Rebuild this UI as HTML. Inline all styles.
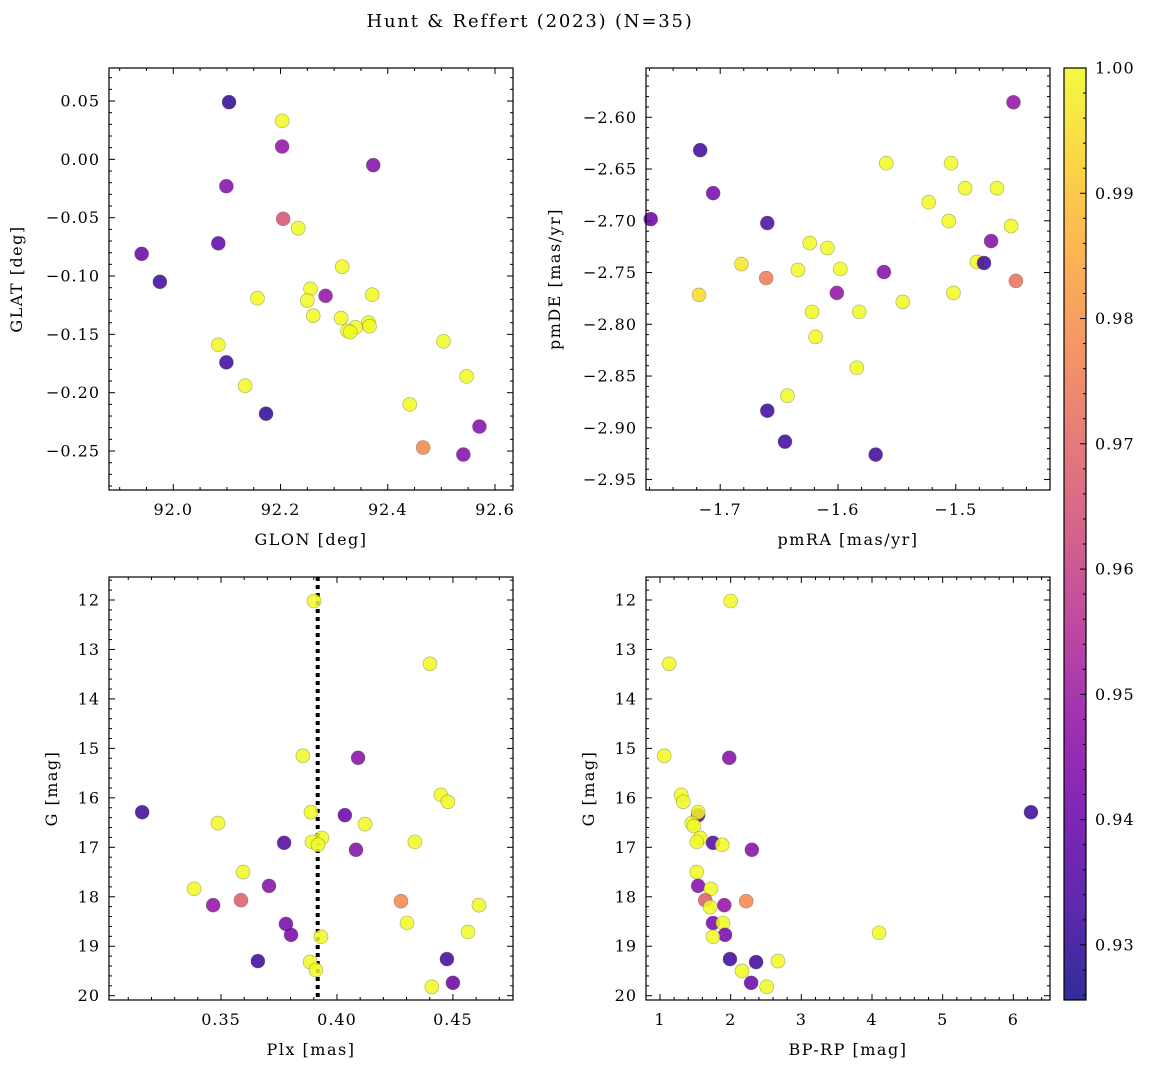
<!DOCTYPE html>
<html><head><meta charset="utf-8"><style>
html,body{margin:0;padding:0;background:#fff}
svg{display:block;font-family:"DejaVu Serif","Liberation Serif",serif}
</style></head><body>
<svg id="fig" width="1149" height="1067" viewBox="0 0 1149 1067" xmlns="http://www.w3.org/2000/svg">
<defs>
<linearGradient id="cbgrad" x1="0" y1="1" x2="0" y2="0">
<stop offset="0" stop-color="#0d0887"/><stop offset="0.1" stop-color="#41049d"/><stop offset="0.2" stop-color="#6a00a8"/><stop offset="0.3" stop-color="#8f0da4"/><stop offset="0.4" stop-color="#b12a90"/><stop offset="0.5" stop-color="#cc4778"/><stop offset="0.6" stop-color="#e16462"/><stop offset="0.7" stop-color="#f2844b"/><stop offset="0.8" stop-color="#fca636"/><stop offset="0.9" stop-color="#fcce25"/><stop offset="1" stop-color="#f0f921"/>
</linearGradient>
</defs>
<text x="530" y="27" font-size="18" letter-spacing="1.8" text-anchor="middle">Hunt &amp; Reffert (2023) (N=35)</text>
</svg>
<script>
// ---- data ----
const glon = [92.104,92.203,92.203,92.373,92.099,92.205,92.233,92.084,91.941,91.975,92.315,92.157,92.256,92.250,92.371,92.284,92.261,92.313,92.364,92.366,92.340,92.325,92.330,92.504,92.084,92.099,92.547,92.134,92.441,92.173,92.571,92.466,92.541];
const glat = [0.049,0.033,0.011,-0.005,-0.023,-0.051,-0.059,-0.072,-0.081,-0.105,-0.092,-0.119,-0.111,-0.121,-0.116,-0.117,-0.134,-0.136,-0.140,-0.143,-0.144,-0.147,-0.148,-0.156,-0.159,-0.174,-0.186,-0.194,-0.210,-0.218,-0.229,-0.247,-0.253];
const prob1 = [0.930,1,0.948,0.945,0.945,0.965,1,0.938,0.940,0.932,1,1,1,1,1,0.948,1,1,1,1,1,1,1,1,1,0.932,1,1,1,0.930,0.945,0.978,0.945];

const pmra = [-1.451,-1.717,-1.759,-1.706,-1.660,-1.559,-1.504,-1.523,-1.492,-1.465,-1.506,-1.453,-1.470,-1.624,-1.609,-1.682,-1.634,-1.598,-1.561,-1.482,-1.476,-1.661,-1.718,-1.449,-1.601,-1.502,-1.545,-1.622,-1.582,-1.619,-1.584,-1.643,-1.660,-1.645,-1.568];
const pmde = [-2.5855,-2.6318,-2.6984,-2.6733,-2.7022,-2.6444,-2.6444,-2.6820,-2.6685,-2.6685,-2.7003,-2.7051,-2.7196,-2.7215,-2.7263,-2.7418,-2.7475,-2.7466,-2.7495,-2.7398,-2.7408,-2.7553,-2.7716,-2.7581,-2.7697,-2.7697,-2.7784,-2.7880,-2.7880,-2.8122,-2.8420,-2.8690,-2.8835,-2.9134,-2.9259];
const prob2 = [0.948,0.932,0.940,0.942,0.935,1,1,1,1,1,1,1,0.945,1,1,0.997,1,1,0.945,1,0.932,0.975,0.995,0.973,0.948,1,1,1,1,1,1,1,0.932,0.932,0.932];

const plx = [0.3901,0.4401,0.3853,0.4091,0.4448,0.4478,0.3160,0.3888,0.4034,0.3487,0.4121,0.3935,0.3772,0.3892,0.3918,0.4336,0.4082,0.3595,0.3707,0.3384,0.3586,0.3466,0.4276,0.4612,0.4302,0.3780,0.3802,0.3931,0.4565,0.3884,0.3659,0.4474,0.3909,0.4500,0.4409];
const gmag3 = [12.02,13.29,15.15,15.19,15.94,16.08,16.29,16.29,16.35,16.51,16.53,16.81,16.91,16.89,16.95,16.89,17.05,17.50,17.78,17.84,18.07,18.17,18.09,18.17,18.53,18.55,18.77,18.81,18.71,19.32,19.30,19.26,19.48,19.74,19.82];
const prob3 = [1,1,1,0.945,1,1,0.932,1,0.940,1,1,1,0.935,1,1,1,0.945,1,0.945,1,0.968,0.948,0.978,1,1,0.942,0.942,1,1,1,0.932,0.932,1,0.940,1];

const bprp = [2.00,1.13,1.06,1.98,1.30,1.33,6.25,1.54,1.54,1.45,1.48,1.57,1.75,1.52,1.88,2.30,1.52,1.54,1.72,1.64,2.22,1.91,1.71,1.75,1.89,1.92,1.75,4.10,1.99,2.36,2.67,2.16,2.29,2.51];
const gmag4 = [12.02,13.29,15.15,15.19,15.94,16.08,16.29,16.35,16.29,16.51,16.57,16.81,16.91,16.89,16.95,17.05,17.50,17.78,17.84,18.07,18.09,18.17,18.21,18.53,18.53,18.77,18.81,18.73,19.26,19.32,19.30,19.50,19.74,19.82];
const prob4 = [1,1,1,0.945,1,1,0.932,0.940,1,1,1,1,0.935,1,1,0.945,1,0.945,1,0.968,0.978,0.948,1,0.942,1,0.942,1,1,0.932,0.932,1,1,0.940,1];

const plxRef = 0.3917;
const cbTicks = [0.93,0.94,0.95,0.96,0.97,0.98,0.99,1.00];
const VMIN = 0.9256, VMAX = 1.0;

// ---- helpers ----
const NS = "http://www.w3.org/2000/svg";
const svg = document.getElementById('fig');
function mk(tag, attrs, parent){const e=document.createElementNS(NS,tag);for(const k in attrs)e.setAttribute(k,attrs[k]);(parent||svg).appendChild(e);return e;}
const stops=[[13,8,135],[65,4,157],[106,0,168],[143,13,164],[177,42,144],[204,71,120],[225,100,98],[242,132,75],[252,166,54],[252,206,37],[240,249,33]];
function plasma(v){let t=(v-VMIN)/(VMAX-VMIN);t=Math.max(0,Math.min(1,t))*10;const i=Math.min(9,Math.floor(t)),f=t-i;const a=stops[i],b=stops[i+1];return `rgb(${a.map((c,k)=>Math.round(c+(b[k]-c)*f)).join(',')})`;}
const TFS=16, TLS=1, LFS=16, LLS=1.5;

function panel(o){
  const g=mk('g',{});
  
  
  const sx=v=>o.x0+(v-o.xmin)/(o.xmax-o.xmin)*(o.x1-o.x0);
  const sy=o.yinv?(v=>o.y0+(v-o.ymin)/(o.ymax-o.ymin)*(o.y1-o.y0)):(v=>o.y1-(v-o.ymin)/(o.ymax-o.ymin)*(o.y1-o.y0));
  const eps=1e-9;
  for(let v=Math.ceil(o.xmin/o.xminor-eps)*o.xminor; v<=o.xmax+eps; v+=o.xminor){
    const major=Math.abs(v/o.xmajor-Math.round(v/o.xmajor))<1e-4;const L=major?6:3;const x=sx(v);
    mk('line',{x1:x,x2:x,y1:o.y1,y2:o.y1-L,stroke:'#000','stroke-width':1},g);
    mk('line',{x1:x,x2:x,y1:o.y0,y2:o.y0+L,stroke:'#000','stroke-width':1},g);
    if(major){const t=mk('text',{x:x,y:o.y1+25,'font-size':TFS,'letter-spacing':TLS,'text-anchor':'middle'},g);t.textContent=o.xfmt(v);
      
      }
  }
  for(let v=Math.ceil(o.ymin/o.yminor-eps)*o.yminor; v<=o.ymax+eps; v+=o.yminor){
    const major=Math.abs(v/o.ymajor-Math.round(v/o.ymajor))<1e-4;const L=major?6:3;const y=sy(v);
    mk('line',{x1:o.x0,x2:o.x0+L,y1:y,y2:y,stroke:'#000','stroke-width':1},g);
    mk('line',{x1:o.x1,x2:o.x1-L,y1:y,y2:y,stroke:'#000','stroke-width':1},g);
    if(major){const t=mk('text',{x:o.x0-9,y:y+5.5,'font-size':TFS,'letter-spacing':TLS,'text-anchor':'end'},g);t.textContent=o.yfmt(v);
      
      }
  }
  if(o.extra)o.extra(g,sx,sy);
  for(let i=0;i<o.xs.length;i++){
    const c=mk('circle',{cx:sx(o.xs[i]),cy:sy(o.ys[i]),r:7,fill:plasma(o.cs[i]),'fill-opacity':0.85,stroke:'rgba(90,90,60,0.5)','stroke-width':0.6},g);
    
    
  }
  const fr=mk('rect',{x:o.x0,y:o.y0,width:o.x1-o.x0,height:o.y1-o.y0,fill:'none',stroke:'#000','stroke-width':1.2},g);
  
  
  const xl=mk('text',{x:(o.x0+o.x1)/2,y:o.y1+55,'font-size':LFS,'letter-spacing':LLS,'text-anchor':'middle'},g);xl.textContent=o.xlabel;
  
  
  const yc=(o.y0+o.y1)/2;
  const yl=mk('text',{x:o.ylx,y:yc,'font-size':LFS,'letter-spacing':LLS,'text-anchor':'middle',transform:`rotate(-90 ${o.ylx} ${yc})`},g);yl.textContent=o.ylabel;
  
  
}
const f=(d)=>(v=>{let s=Math.abs(v).toFixed(d);if(v< -1e-9)s='\u2212'+s;return s;});

panel({name:'glon-glat-panel',x0:109,x1:513,y0:68,y1:490,xmin:91.8801,xmax:92.6336,ymin:-0.2834,ymax:0.0783,
  xmajor:0.2,xminor:0.05,ymajor:0.05,yminor:0.01,xfmt:f(1),yfmt:f(2),xs:glon,ys:glat,cs:prob1,xlabel:'GLON [deg]',ylabel:'GLAT [deg]',ylx:22});
panel({name:'pm-panel',x0:646,x1:1050,y0:68,y1:490,xmin:-1.763,xmax:-1.420,ymin:-2.9601,ymax:-2.5524,
  xmajor:0.1,xminor:0.02,ymajor:0.05,yminor:0.01,xfmt:f(1),yfmt:f(2),xs:pmra,ys:pmde,cs:prob2,xlabel:'pmRA [mas/yr]',ylabel:'pmDE [mas/yr]',ylx:560});
panel({name:'plx-g-panel',x0:109,x1:513,y0:577,y1:1000,xmin:0.3017,xmax:0.4759,ymin:11.535,ymax:20.087,yinv:true,
  xmajor:0.05,xminor:0.01,ymajor:1,yminor:0.2,xfmt:f(2),yfmt:f(0),xs:plx,ys:gmag3,cs:prob3,xlabel:'Plx [mas]',ylabel:'G [mag]',ylx:57,
  extra:(g,sx,sy)=>{const l=mk('line',{x1:sx(plxRef),x2:sx(plxRef),y1:577,y2:1000,stroke:'#000','stroke-width':4,'stroke-dasharray':'4,4'},g);
    
    }});
panel({name:'cmd-panel',x0:646,x1:1050,y0:577,y1:1000,xmin:0.802,xmax:6.519,ymin:11.535,ymax:20.087,yinv:true,
  xmajor:1,xminor:0.2,ymajor:1,yminor:0.2,xfmt:f(0),yfmt:f(0),xs:bprp,ys:gmag4,cs:prob4,xlabel:'BP-RP [mag]',ylabel:'G [mag]',ylx:594});

// colorbar
const cb=mk('g',{});


const cy0=68,cy1=1000,cx0=1064,cx1=1086;
const cby=v=>cy1-(v-VMIN)/(VMAX-VMIN)*(cy1-cy0);
mk('rect',{x:cx0,y:cy0,width:cx1-cx0,height:cy1-cy0,fill:'url(#cbgrad)','fill-opacity':0.85},cb);
for(let v=0.926;v<=1.0001;v+=0.002){const y=cby(v);const maj=Math.abs(v*100-Math.round(v*100))<1e-3;
  mk('line',{x1:cx1,x2:cx1-(maj?6:3),y1:y,y2:y,stroke:'#000','stroke-width':1},cb);}
cbTicks.forEach(v=>{const t=mk('text',{x:1095,y:cby(v)+5.5,'font-size':TFS,'letter-spacing':TLS},cb);t.textContent=v.toFixed(2);
  
  });
mk('rect',{x:cx0,y:cy0,width:cx1-cx0,height:cy1-cy0,fill:'none',stroke:'#000','stroke-width':1.2},cb);
</script>
</body></html>
